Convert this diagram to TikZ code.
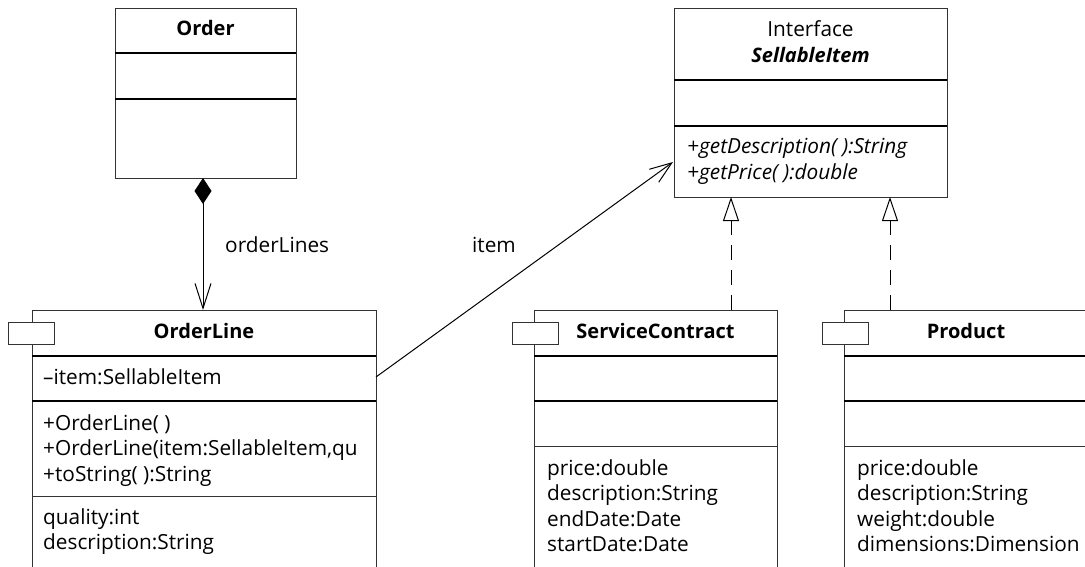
\documentclass[tikz,border=0pt]{standalone}
\usepackage{fontspec}
\setmainfont{Open Sans}
\usetikzlibrary{arrows.meta,calc}
\begin{document}
\begin{tikzpicture}[x=1pt,y=-1pt,
  box/.style={draw=black!80, line width=1pt, fill=white, inner sep=0pt, anchor=north west},
  sep/.style={line width=1.4pt, black},
  thinsep/.style={line width=1pt, black!80},
  txt/.style={font=\fontsize{20.8}{25.5}\selectfont, inner sep=0pt, anchor=base west},
  ttl/.style={font=\fontsize{20}{25.5}\selectfont\bfseries, inner sep=0pt, anchor=base},
  tabbox/.style={draw=black!80, line width=1pt, fill=white, minimum width=46pt, minimum height=22pt, inner sep=0pt, anchor=north west},
  conn/.style={line width=1pt, black},
  realize/.style={conn, dash pattern=on 15pt off 10pt, -{Triangle[open, length=24pt, width=16pt, fill=white]}}
]
\useasboundingbox (0,0) rectangle (1085,567);
\clip (0,0) rectangle (1085,567);

% class boxes
\node[box, minimum width=181pt, minimum height=170pt] (order) at (115,8) {};
\node[box, minimum width=344pt, minimum height=300pt] (ol) at (32,310) {};
\node[box, minimum width=273pt, minimum height=189pt] (ifc) at (674,8) {};
\node[box, minimum width=243pt, minimum height=300pt] (sc) at (534,310) {};
\node[box, minimum width=244pt, minimum height=300pt] (prod) at (844,310) {};

% dividers
\draw[sep] (115,53) -- (296,53);
\draw[sep] (115,99) -- (296,99);
\draw[sep] (32,356) -- (376,356);
\draw[sep] (32,401) -- (376,401);
\draw[thinsep] (32,496) -- (376,496);
\draw[sep] (674,80) -- (947,80);
\draw[sep] (674,126) -- (947,126);
\draw[sep] (534,356) -- (777,356);
\draw[sep] (534,401) -- (777,401);
\draw[thinsep] (534,446) -- (777,446);
\draw[sep] (844,356) -- (1088,356);
\draw[sep] (844,401) -- (1088,401);
\draw[thinsep] (844,446) -- (1088,446);

% tabs
\node[tabbox] (oltab) at (8,322) {};
\node[tabbox] (sctab) at (512,322) {};
\node[tabbox] (prodtab) at (822,322) {};

% Order
\node[ttl] (orderT) at (205.5,36) {Order};

% OrderLine
\node[ttl] (olT) at (204,338) {OrderLine};
\node[txt] (olA) at (43,384) {–item:SellableItem};
\node[txt] (olM1) at (43,430) {+OrderLine( )};
\node[txt] (olM2) at (43,455.5) {+OrderLine(item:SellableItem,qu};
\node[txt] (olM3) at (43,481) {+toString( ):String};
\node[txt] (olP1) at (43,524) {quality:int};
\node[txt] (olP2) at (43,549.5) {description:String};

% Interface
\node[txt, anchor=base] (ifcK) at (810.5,37) {Interface};
\node[ttl, font=\fontsize{20}{25.5}\selectfont\bfseries\itshape] (ifcT) at (810.5,63) {SellableItem};
\node[txt, font=\fontsize{20.8}{25.5}\selectfont\itshape] (ifcM1) at (687,154) {+getDescription( ):String};
\node[txt, font=\fontsize{20.8}{25.5}\selectfont\itshape] (ifcM2) at (687,180) {+getPrice( ):double};

% ServiceContract
\node[ttl] (scT) at (655.5,338) {ServiceContract};
\node[txt] (scP1) at (547,475) {price:double};
\node[txt] (scP2) at (547,500.5) {description:String};
\node[txt] (scP3) at (547,526) {endDate:Date};
\node[txt] (scP4) at (547,551.5) {startDate:Date};

% Product
\node[ttl] (prodT) at (966,338) {Product};
\node[txt] (prP1) at (857,475) {price:double};
\node[txt] (prP2) at (857,500.5) {description:String};
\node[txt] (prP3) at (857,526) {weight:double};
\node[txt] (prP4) at (857,551.5) {dimensions:Dimension};

% connectors
\coordinate (compTop) at (203,178);
\coordinate (compBot) at (203,310);
\draw[conn, {Diamond[length=26pt,width=17pt]}-{Straight Barb[length=25pt,width=16pt]}] (compTop) -- (compBot);
\node[txt] (lblOL) at (225,252) {orderLines};

\coordinate (itemStart) at (376,377);
\coordinate (itemEnd) at (673,162);
\draw[conn, -{Straight Barb[length=22pt,width=16pt]}] (itemStart) -- (itemEnd);
\node[txt] (lblItem) at (472,252) {item};

\coordinate (scUp) at (731,310);
\coordinate (scIfc) at (731,197);
\draw[realize] (scUp) -- (scIfc);
\coordinate (prUp) at (890,310);
\coordinate (prIfc) at (890,197);
\draw[realize] (prUp) -- (prIfc);
\end{tikzpicture}
\end{document}
